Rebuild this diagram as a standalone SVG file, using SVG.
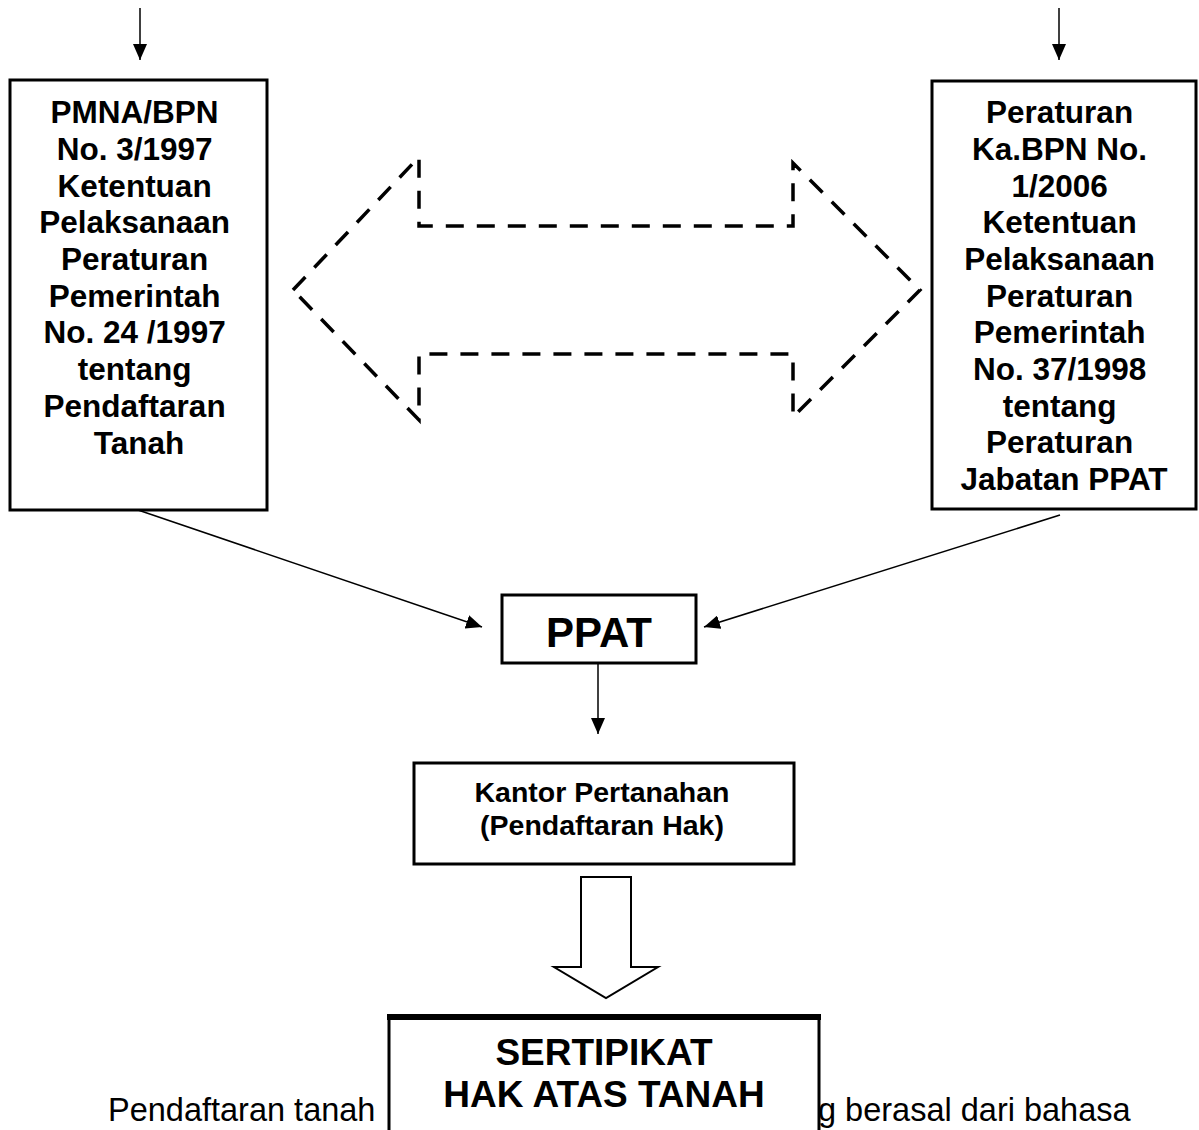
<svg xmlns="http://www.w3.org/2000/svg" width="1199" height="1130" viewBox="0 0 1199 1130">
<defs>
<marker id="ah" markerWidth="16" markerHeight="14" refX="16" refY="7" orient="auto" markerUnits="userSpaceOnUse">
<path d="M0,0 L16,7 L0,14 Z" fill="#000"/>
</marker>
</defs>
<style>
.box{fill:#fff;stroke:#000;stroke-width:3}
.t{font-family:"Liberation Sans",Arial,sans-serif;font-weight:bold;fill:#000;text-anchor:middle}
.c{stroke:#000;stroke-width:1.5;fill:none;marker-end:url(#ah)}
.body{font-family:"Liberation Sans",Arial,sans-serif;font-size:32.5px;fill:#000}
</style>
<rect width="1199" height="1130" fill="#fff"/>
<text class="body" x="108" y="1121">Pendaftaran tanah</text>
<text class="body" x="818" y="1121">g berasal dari bahasa</text>
<g id="connectors">
<line class="c" x1="140" y1="8" x2="140" y2="60"/>
<line class="c" x1="1059" y1="8" x2="1059" y2="60"/>
<line class="c" x1="138" y1="510" x2="482" y2="627"/>
<line class="c" x1="1060" y1="515" x2="704" y2="627"/>
<line class="c" x1="598" y1="663" x2="598" y2="734"/>
<polygon id="dashed-arrow" points="293,290 419,157 419,226 793,226 793,163 920,290 793,417 793,354 419,354 419,420" fill="none" stroke="#000" stroke-width="3.5" stroke-dasharray="18 13"/>
<polygon id="hollow-arrow" points="581,877 631,877 631,967 658,967 606,998 554,967 581,967" fill="#fff" stroke="#000" stroke-width="2"/>
</g>
<g id="node-pmna">
<rect class="box" x="10" y="80" width="257" height="430"/>
<text class="t" font-size="31.5" x="139">
<tspan x="139" y="123">PMNA/BPN</tspan>
<tspan x="139" y="160">No. 3/1997</tspan>
<tspan x="139" y="197">Ketentuan</tspan>
<tspan x="139" y="233">Pelaksanaan</tspan>
<tspan x="139" y="270">Peraturan</tspan>
<tspan x="139" y="307">Pemerintah</tspan>
<tspan x="139" y="343">No. 24 /1997</tspan>
<tspan x="139" y="380">tentang</tspan>
<tspan x="139" y="417">Pendaftaran</tspan>
<tspan x="139" y="454">Tanah</tspan>
</text>
</g>
<g id="node-perkaban">
<rect class="box" x="932" y="81" width="264" height="428"/>
<text class="t" font-size="31.5" x="1064">
<tspan x="1064" y="123">Peraturan</tspan>
<tspan x="1064" y="160">Ka.BPN No.</tspan>
<tspan x="1064" y="197">1/2006</tspan>
<tspan x="1064" y="233">Ketentuan</tspan>
<tspan x="1064" y="270">Pelaksanaan</tspan>
<tspan x="1064" y="307">Peraturan</tspan>
<tspan x="1064" y="343">Pemerintah</tspan>
<tspan x="1064" y="380">No. 37/1998</tspan>
<tspan x="1064" y="417">tentang</tspan>
<tspan x="1064" y="453">Peraturan</tspan>
<tspan x="1064" y="490">Jabatan PPAT</tspan>
</text>
</g>
<g id="node-ppat">
<rect class="box" x="502" y="595" width="194" height="68"/>
<text class="t" font-size="42" x="599" y="647">PPAT</text>
</g>
<g id="node-kantor">
<rect class="box" x="414" y="763" width="380" height="101"/>
<text class="t" font-size="28.5" x="602" y="802">Kantor Pertanahan</text>
<text class="t" font-size="28.5" x="602" y="835">(Pendaftaran Hak)</text>
</g>
<g id="node-sertipikat">
<rect class="box" x="389" y="1017" width="430" height="130" stroke-width="4"/>
<line x1="387" y1="1017" x2="821" y2="1017" stroke="#000" stroke-width="6"/>
<text class="t" font-size="37" x="604" y="1065">SERTIPIKAT</text>
<text class="t" font-size="37" x="604" y="1107">HAK ATAS TANAH</text>
</g>
</svg>
